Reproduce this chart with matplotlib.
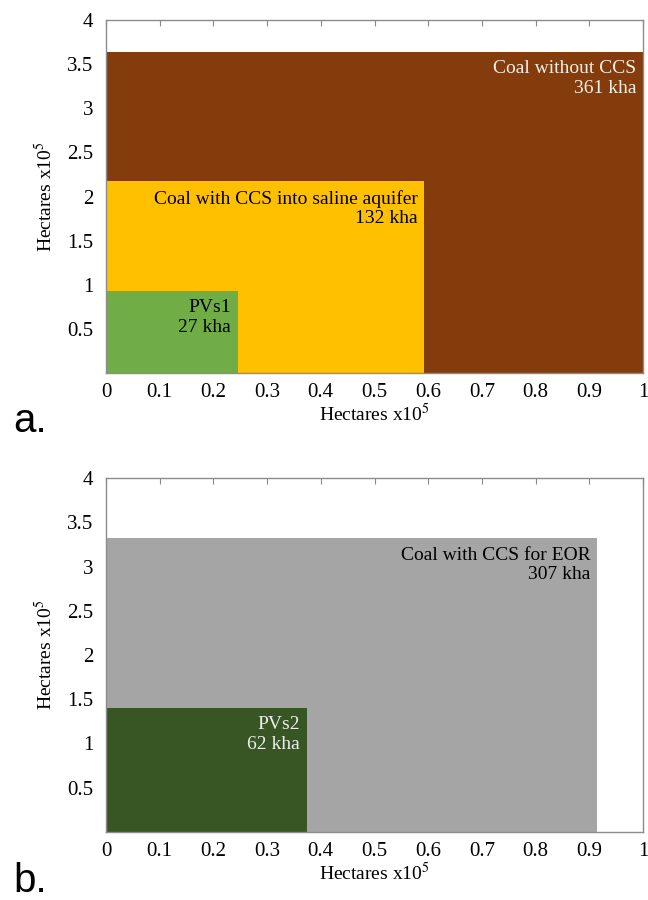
import matplotlib
matplotlib.use('Agg')
import matplotlib.pyplot as plt
from matplotlib.patches import Rectangle

# panel a: land use areas (x and y in hectares x10^5)
labels_a = ["Coal without CCS", "Coal with CCS into saline aquifer", "PVs1"]
areas_a = ["361 kha", "132 kha", "27 kha"]
widths_a = [1.0, 0.593, 0.246]
heights_a = [3.64, 2.17, 0.93]
colors_a = ["#843C0C", "#FFC000", "#70AD47"]
text_colors_a = ["#F5F0E6", "black", "black"]

# panel b
labels_b = ["Coal with CCS for EOR", "PVs2"]
areas_b = ["307 kha", "62 kha"]
widths_b = [0.915, 0.374]
heights_b = [3.32, 1.40]
colors_b = ["#A5A5A5", "#375623"]
text_colors_b = ["black", "#EDEDED"]

xticks = [0, 0.1, 0.2, 0.3, 0.4, 0.5, 0.6, 0.7, 0.8, 0.9, 1]
yticks = [0.5, 1, 1.5, 2, 2.5, 3, 3.5, 4]

plt.rcParams['font.family'] = ['Liberation Serif', 'DejaVu Serif']
plt.rcParams['mathtext.fontset'] = 'stix'

fig = plt.figure(figsize=(6.48, 9), dpi=100)


def draw_panel(ax, labels, areas, widths, heights, colors, tcolors):
    for lab, ar, w, h, c, tc in zip(labels, areas, widths, heights, colors, tcolors):
        ax.add_patch(Rectangle((0, 0), w, h, facecolor=c, edgecolor='none'))
        ax.annotate(lab + "\n" + ar, xy=(w, h), xytext=(-5, -6),
                    textcoords='offset points', ha='right', va='top',
                    fontsize=14, color=tc, linespacing=1.2, multialignment='right')
    ax.set_xlim(0, 1)
    ax.set_ylim(0, 4)
    ax.set_xticks(xticks)
    ax.set_xticklabels([f"{v:g}" for v in xticks])
    ax.set_yticks(yticks)
    ax.set_yticklabels([f"{v:g}" for v in yticks])
    ax.tick_params(axis='x', which='both', top=True, bottom=False, direction='in',
                   length=4, color='#888888', labelsize=15, pad=7)
    ax.tick_params(axis='y', length=0, labelsize=15, pad=9)
    for s in ax.spines.values():
        s.set_color('#8c8c8c')
        s.set_linewidth(1.0)
    ax.set_xlabel("Hectares x10$^5$", fontsize=14, labelpad=1)
    ax.set_ylabel("Hectares x10$^5$", fontsize=14, labelpad=8)


ax1 = fig.add_axes([106 / 648, 1 - 373 / 900, 537 / 648, 353 / 900])
draw_panel(ax1, labels_a, areas_a, widths_a, heights_a, colors_a, text_colors_a)

ax2 = fig.add_axes([106 / 648, 1 - 832 / 900, 537 / 648, 354 / 900])
draw_panel(ax2, labels_b, areas_b, widths_b, heights_b, colors_b, text_colors_b)

fig.text(13 / 648, 1 - 432 / 900, "a.", fontsize=29, family='Liberation Sans', va='baseline')
fig.text(13 / 648, 1 - 892 / 900, "b.", fontsize=29, family='Liberation Sans', va='baseline')

plt.savefig("out.png", dpi=100)
plt.close()
